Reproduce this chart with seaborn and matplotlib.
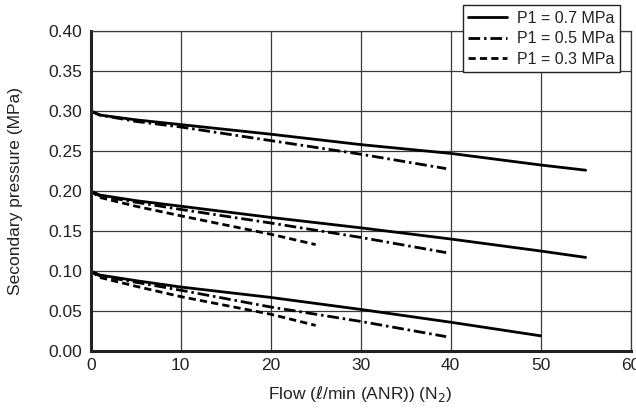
import matplotlib
matplotlib.use("Agg")
import matplotlib.pyplot as plt
import seaborn as sns
import pandas as pd
from matplotlib.lines import Line2D

# Secondary pressure vs. flow for three supply pressures (P1) at three set points
flow_p07 = [0, 1, 5, 10, 20, 30, 40, 50, 55]
p07_set030 = [0.300, 0.295, 0.289, 0.283, 0.271, 0.258, 0.247, 0.2325, 0.226]
p07_set020 = [0.200, 0.195, 0.188, 0.181, 0.167, 0.154, 0.140, 0.125, 0.117]
flow_p07_low = [0, 1, 5, 10, 20, 30, 40, 50]
p07_set010 = [0.100, 0.095, 0.088, 0.080, 0.067, 0.052, 0.036, 0.019]

flow_p05 = [0, 1, 5, 10, 20, 30, 39.5]
p05_set030 = [0.300, 0.295, 0.287, 0.280, 0.263, 0.246, 0.228]
p05_set020 = [0.200, 0.194, 0.186, 0.177, 0.160, 0.142, 0.123]
p05_set010 = [0.100, 0.094, 0.086, 0.076, 0.055, 0.037, 0.018]

flow_p03 = [0, 1, 5, 10, 20, 25]
p03_set020 = [0.200, 0.192, 0.181, 0.169, 0.146, 0.133]
p03_set010 = [0.100, 0.092, 0.081, 0.068, 0.046, 0.032]

series_labels = ["P1 = 0.7 MPa", "P1 = 0.5 MPa", "P1 = 0.3 MPa"]
x_ticks = [0, 10, 20, 30, 40, 50, 60]
y_ticks = [0.00, 0.05, 0.10, 0.15, 0.20, 0.25, 0.30, 0.35, 0.40]

curves = [
    (series_labels[0], "0.30", flow_p07, p07_set030),
    (series_labels[0], "0.20", flow_p07, p07_set020),
    (series_labels[0], "0.10", flow_p07_low, p07_set010),
    (series_labels[1], "0.30", flow_p05, p05_set030),
    (series_labels[1], "0.20", flow_p05, p05_set020),
    (series_labels[1], "0.10", flow_p05, p05_set010),
    (series_labels[2], "0.20", flow_p03, p03_set020),
    (series_labels[2], "0.10", flow_p03, p03_set010),
]
rows = []
for p1, sp, fx, fy in curves:
    for x, y in zip(fx, fy):
        rows.append({"P1": p1, "set": f"{p1} {sp}", "flow": x, "pressure": y})
df = pd.DataFrame(rows)

sns.set_theme(style="white")
plt.rcParams["font.family"] = ["Liberation Sans", "DejaVu Sans"]
plt.rcParams["mathtext.fontset"] = "dejavusans"
text_color = "#222222"

fig = plt.figure(figsize=(6.36, 4.12), dpi=100)
ax = fig.add_axes([0.1426, 0.148, 0.849, 0.7768])

dash_styles = {
    series_labels[0]: "",
    series_labels[1]: (4.2, 1.4, 0.9, 1.4),
    series_labels[2]: (2.6, 1.5),
}
sns.lineplot(data=df, x="flow", y="pressure", style="P1", units="set",
             estimator=None, dashes=dash_styles, color="black",
             linewidth=2.0, legend=False, ax=ax, sort=False)

ax.set_xlim(0, 60)
ax.set_ylim(0, 0.40)
ax.set_xticks(x_ticks)
ax.set_yticks(y_ticks)
ax.set_xticklabels([str(t) for t in x_ticks])
ax.set_yticklabels([f"{t:.2f}" for t in y_ticks])
ax.grid(True, color="#3a3a3a", linewidth=0.9)
ax.set_axisbelow(True)

for side in ["top", "right"]:
    ax.spines[side].set_color("#3a3a3a")
    ax.spines[side].set_linewidth(0.9)
for side in ["left", "bottom"]:
    ax.spines[side].set_color("#222222")
    ax.spines[side].set_linewidth(2.2)

ax.tick_params(axis="both", length=0, labelsize=12.5, colors=text_color)
ax.tick_params(axis="y", pad=6)
ax.tick_params(axis="x", pad=5)

ax.set_xlabel(r"Flow ($\ell$/min (ANR)) (N$_2$)", fontsize=12.5,
              color=text_color, labelpad=8)
ax.set_ylabel("Secondary pressure (MPa)", fontsize=12.5, color=text_color,
              labelpad=18)

handles = [
    Line2D([], [], color="black", linewidth=2.0, linestyle="-"),
    Line2D([], [], color="black", linewidth=2.0, dashes=dash_styles[series_labels[1]]),
    Line2D([], [], color="black", linewidth=2.0, dashes=dash_styles[series_labels[2]]),
]
leg = fig.legend(handles, series_labels, loc="upper right",
                 bbox_to_anchor=(620 / 636, 1 - 5 / 412), fontsize=11.5,
                 frameon=True, fancybox=False, framealpha=1, edgecolor="#222222",
                 handlelength=2.4, handletextpad=0.65, labelspacing=0.35,
                 borderpad=0.35, borderaxespad=0)
leg.get_frame().set_linewidth(1.0)
for t in leg.get_texts():
    t.set_color(text_color)

fig.savefig("out.png", dpi=100)
